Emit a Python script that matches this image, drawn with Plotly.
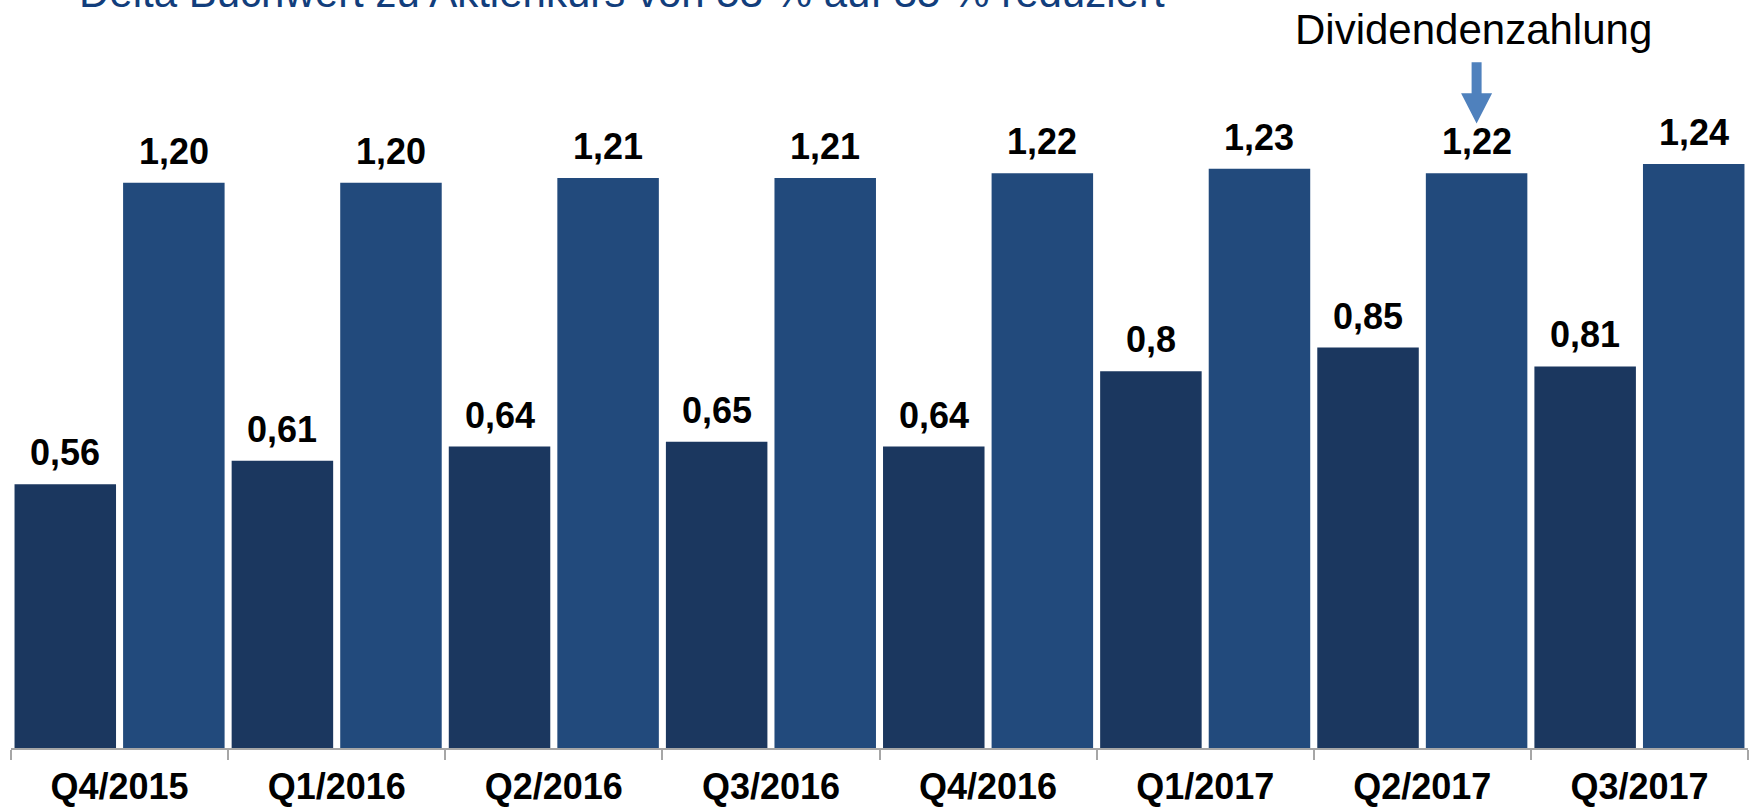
import plotly.graph_objects as go

categories = ["Q4/2015", "Q1/2016", "Q2/2016", "Q3/2016", "Q4/2016", "Q1/2017", "Q2/2017", "Q3/2017"]
dark_values = [0.56, 0.61, 0.64, 0.65, 0.64, 0.80, 0.85, 0.81]
dark_labels = ["0,56", "0,61", "0,64", "0,65", "0,64", "0,8", "0,85", "0,81"]
light_values = [1.20, 1.20, 1.21, 1.21, 1.22, 1.23, 1.22, 1.24]
light_labels = ["1,20", "1,20", "1,21", "1,21", "1,22", "1,23", "1,22", "1,24"]
title_text = "Delta Buchwert zu Aktienkurs von 53 % auf 35 % reduziert"
note_text = "Dividendenzahlung"
note_index = 6

FONT = "Arial, Liberation Sans, sans-serif"
DARK = "#1B375F"
LIGHT = "#224A7C"

fig = go.Figure()
fig.add_trace(go.Bar(x=categories, y=dark_values, marker=dict(color=DARK, line=dict(width=0)),
                     hoverinfo="skip"))
fig.add_trace(go.Bar(x=categories, y=light_values, marker=dict(color=LIGHT, line=dict(width=0)),
                     hoverinfo="skip"))

W, H = 1752, 810
ml, mr, mt, mb = 11, 4, 0, 62
slot = (W - ml - mr) / len(categories) / 2

annotations = []
for cat, v, t in zip(categories, dark_values, dark_labels):
    annotations.append(dict(x=cat, y=v, xref="x", yref="y", text=t, showarrow=False,
                            xshift=-slot / 2, yshift=9, yanchor="bottom",
                            font=dict(family=FONT, size=36, color="#000000", weight="bold")))
for cat, v, t in zip(categories, light_values, light_labels):
    annotations.append(dict(x=cat, y=v, xref="x", yref="y", text=t, showarrow=False,
                            xshift=slot / 2, yshift=9, yanchor="bottom",
                            font=dict(family=FONT, size=36, color="#000000", weight="bold")))

annotations.append(dict(x=0.352, y=1, xref="paper", yref="paper", text=title_text,
                        showarrow=False, xanchor="center", yanchor="bottom", yshift=-18,
                        font=dict(family=FONT, size=42, color="#123E7C")))
annotations.append(dict(x=note_index + 0.25, y=1, xref="x", yref="paper", text=note_text,
                        showarrow=False, xanchor="center", yanchor="bottom", yshift=-55, xshift=-3,
                        font=dict(family=FONT, size=42, color="#000000")))

# arrow pointing at the dividend bar
ax = note_index + 0.25
sw = 0.023
hw = 0.0714
path = (f"M {ax - sw} 1.456 L {ax + sw} 1.456 L {ax + sw} 1.390 L {ax + hw} 1.390 "
        f"L {ax} 1.326 L {ax - hw} 1.390 L {ax - sw} 1.390 Z")

fig.update_layout(
    width=W, height=H,
    margin=dict(l=ml, r=mr, t=mt, b=mb),
    paper_bgcolor="white", plot_bgcolor="white",
    barmode="group", bargap=0, bargroupgap=0.065,
    showlegend=False,
    annotations=annotations,
    shapes=[dict(type="path", path=path, xref="x", yref="y",
                 fillcolor="#4F81BD", line=dict(width=0))],
    xaxis=dict(showgrid=False, showline=True, linecolor="#A6A6A6", linewidth=2,
               ticks="outside", tickson="boundaries", ticklen=10, tickwidth=2, tickcolor="#A6A6A6",
               tickfont=dict(family=FONT, size=36, color="#000000", weight="bold"),
               ticklabelstandoff=6, zeroline=False, automargin=False),
    yaxis=dict(range=[0, 1.588], visible=False, showgrid=False, zeroline=False, automargin=False),
)

fig.write_html("out.html", config={"displayModeBar": False},
               post_script="document.body.style.margin='0';document.body.style.overflow='hidden';")
